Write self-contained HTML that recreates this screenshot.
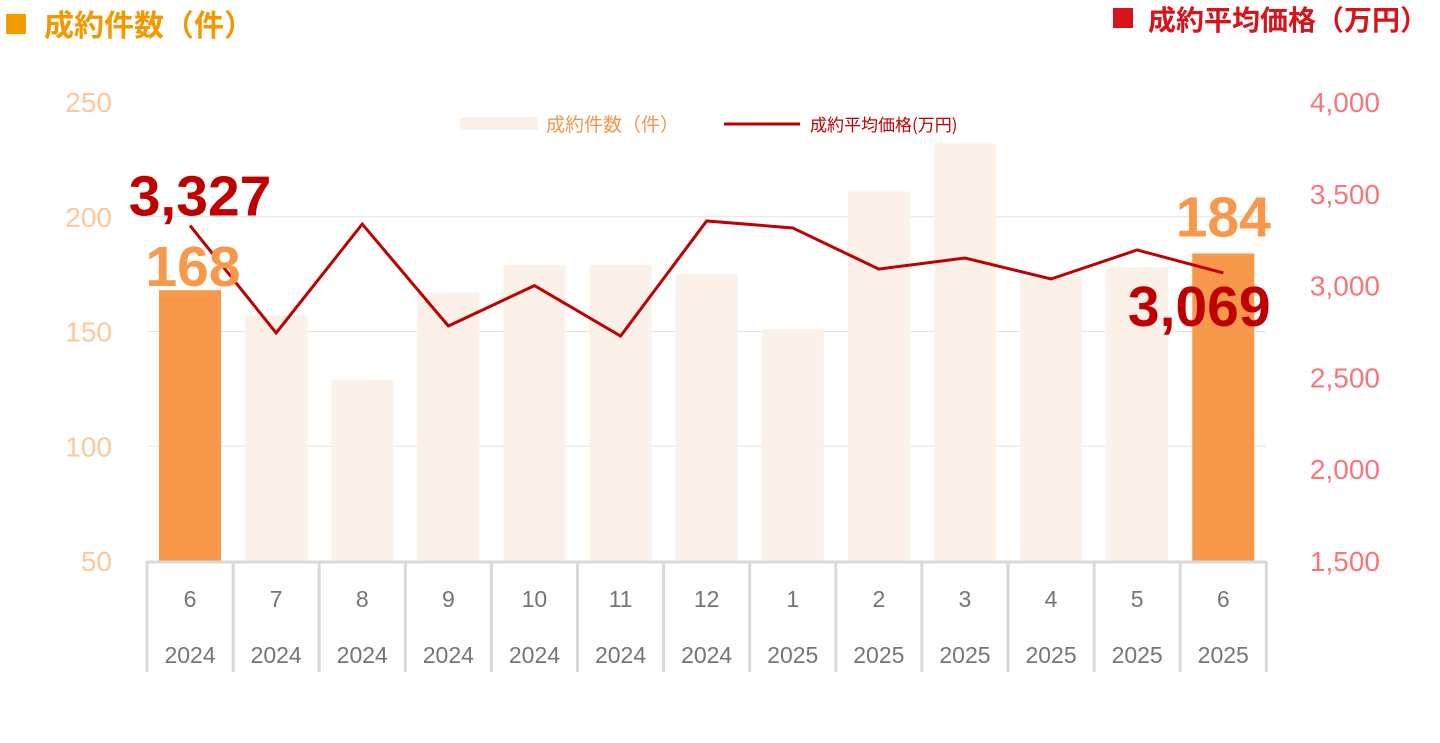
<!DOCTYPE html>
<html><head><meta charset="utf-8"><style>
body{margin:0;background:#fff;width:1440px;height:738px;overflow:hidden}
svg{font-family:"Liberation Sans","Noto Sans CJK JP",sans-serif}
</style></head><body>
<svg id="c" width="1440" height="738">
<g>
<rect x="6" y="14" width="20" height="20" fill="#f59a00"/>
<text x="44" y="36" font-size="30" font-weight="bold" fill="#f39800" font-family="Noto Sans CJK JP,sans-serif">成約件数（件）</text></g>
<g>
<rect x="1113" y="8" width="20" height="20" fill="#d7141a"/>
<text x="1148" y="30" font-size="28" font-weight="bold" fill="#d7141a" font-family="Noto Sans CJK JP,sans-serif">成約平均価格（万円）</text></g>
<g>
<rect x="460" y="117" width="78" height="13" fill="#fcf1e9"/>
<text x="546" y="131" font-size="19" fill="#f5954a" font-family="Noto Sans CJK JP,sans-serif">成約件数（件）</text>
<line x1="724" y1="124" x2="800" y2="124" stroke="#c00000" stroke-width="3"/>
<text x="810" y="131" font-size="17" fill="#c00000" font-family="Noto Sans CJK JP,sans-serif">成約平均価格(万円)</text></g>
<g id="grid"></g><g id="bars"></g><g id="line"></g><g id="axes"></g><g id="labels"></g>
</svg>
<script>
const months=["6","7","8","9","10","11","12","1","2","3","4","5","6"];
const years=["2024","2024","2024","2024","2024","2024","2024","2025","2025","2025","2025","2025","2025"];
const counts=[168,157,129,167,179,179,175,151,211,232,174,178,184];
const prices=[3327,2742,3335,2780,3000,2725,3352,3314,3090,3150,3036,3194,3069];
const leftTicks=[50,100,150,200,250];
const rightTicks=[1500,2000,2500,3000,3500,4000];
const NS="http://www.w3.org/2000/svg";
const X0=147,CW=86.1,TOP=102,BOT=561;
const yL=v=>BOT-(v-50)/200*(BOT-TOP);
const yR=v=>BOT-(v-1500)/2500*(BOT-TOP);
const xc=i=>X0+CW*(i+0.5);
function mk(t,a,p,txt){const e=document.createElementNS(NS,t);for(const k in a)e.setAttribute(k,a[k]);if(txt!=null)e.textContent=txt;document.getElementById(p).appendChild(e);return e;}
leftTicks.forEach(v=>{
 if(v>50&&v<250){const g=mk('line',{x1:X0,x2:1266,y1:yL(v),y2:yL(v),stroke:'#e3e3e3','stroke-width':1},'grid');
 
 }
 const t=mk('text',{x:112,y:yL(v)+10,'font-size':28,fill:'#fbc99b','text-anchor':'end'},'axes',v);
 
 
});
rightTicks.forEach(v=>{
 const t=mk('text',{x:1380,y:yR(v)+10,'font-size':28,fill:'#f8767a','text-anchor':'end'},'axes',v.toLocaleString('en-US'));
 
 
});
counts.forEach((v,i)=>{
 const hl=(i==0||i==counts.length-1);
 const r=mk('rect',{x:xc(i)-31,y:yL(v),width:62,height:BOT-yL(v),fill:hl?'#f7984a':'#fcf1e9'},'bars');
 
 
});
const pts=prices.map((v,i)=>xc(i)+','+yR(v)).join(' ');
const pl=mk('polyline',{points:pts,fill:'none',stroke:'#c00000','stroke-width':3},'line');


const ax=mk('line',{x1:X0,x2:1266,y1:BOT+1,y2:BOT+1,stroke:'#d9d9d9','stroke-width':3},'axes');


for(let i=0;i<=months.length;i++){
 const l=mk('line',{x1:X0+CW*i,x2:X0+CW*i,y1:BOT,y2:672,stroke:'#d9d9d9','stroke-width':3},'axes');
 
 
}
months.forEach((m,i)=>{
 const t=mk('text',{x:xc(i),y:607,'font-size':23,fill:'#757575','text-anchor':'middle'},'axes',m);
 
 
 const y=mk('text',{x:xc(i),y:663,'font-size':23,fill:'#757575','text-anchor':'middle'},'axes',years[i]);
 
 
});
const n=counts.length-1;
const a=mk('text',{x:xc(0)+3,y:yL(counts[0])-4,'font-size':57,'font-weight':'bold',fill:'#f7984a','text-anchor':'middle'},'labels',counts[0]);


const b=mk('text',{x:xc(n),y:yL(counts[n])-17,'font-size':57,'font-weight':'bold',fill:'#f7984a','text-anchor':'middle'},'labels',counts[n]);


const c=mk('text',{x:xc(0)+10,y:yR(prices[0])-10,'font-size':57,'font-weight':'bold',fill:'#c00000','text-anchor':'middle'},'labels',prices[0].toLocaleString('en-US'));


const d=mk('text',{x:xc(n)-24,y:yR(prices[n])+53,'font-size':57,'font-weight':'bold',fill:'#c00000','text-anchor':'middle'},'labels',prices[n].toLocaleString('en-US'));


</script>
</body></html>
